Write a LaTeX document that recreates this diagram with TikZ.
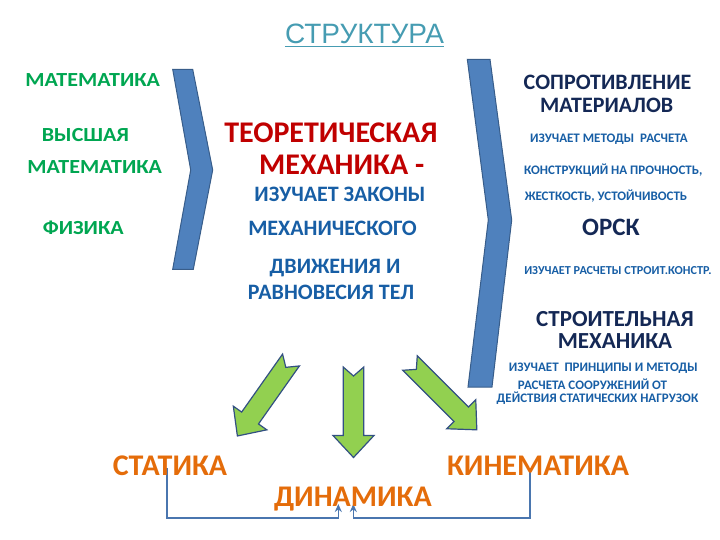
\documentclass[tikz,border=0pt]{standalone}
\usepackage{fontspec}
\setmainfont{Carlito}
\newfontfamily\titlefont{Liberation Sans}
\usetikzlibrary{arrows.meta}
\definecolor{grn}{RGB}{0,166,81}
\definecolor{dred}{RGB}{192,0,0}
\definecolor{bodyblue}{RGB}{23,94,165}
\definecolor{navy}{RGB}{20,40,85}
\definecolor{orng}{RGB}{228,108,10}
\definecolor{ttl}{RGB}{70,156,178}
\definecolor{chev}{RGB}{79,129,189}
\definecolor{chevb}{RGB}{56,93,138}
\definecolor{lgreen}{RGB}{146,208,80}
\definecolor{arrb}{RGB}{50,80,130}
\definecolor{connc}{RGB}{74,118,175}
\newcommand{\fs}[1]{\fontsize{#1}{#1}\selectfont\bfseries}
\newcommand{\blockarrow}[3]{%
  \begin{scope}[shift={#1}, rotate=#2]
    \filldraw[garrow] (0,10.3) -- ({#3-22},10.3) -- ({#3-22},20.5) -- (#3,0)
      -- ({#3-22},-20.5) -- ({#3-22},-10.3) -- (0,-10.3) -- (9,0) -- cycle;
  \end{scope}}
\begin{document}
\begin{tikzpicture}[x=1pt,y=-1pt,
  txt/.style={inner sep=0pt, anchor=base},
  gtxt/.style={txt, text=grn, font=\fs{20}},
  rtxt/.style={txt, text=dred, font=\fs{30}},
  btxt/.style={txt, text=bodyblue, font=\fs{22}},
  ntxt/.style={txt, text=navy, font=\fs{22}},
  stxt/.style={txt, text=bodyblue, font=\fs{13}},
  otxt/.style={txt, text=orng, font=\fs{30}},
  chevron/.style={fill=chev, draw=chevb, line width=1pt, line join=miter},
  garrow/.style={fill=lgreen, draw=arrb, line width=1.2pt, line join=miter},
  conn/.style={draw=connc, line width=1.4pt, -{Stealth[length=8pt,width=7pt]}}]
\useasboundingbox (0,0) rectangle (720,540);

% title
\node[txt, text=ttl, font=\titlefont\fontsize{28}{28}\selectfont] (title) at (364.5,44) {СТРУКТУРА};
\draw[ttl, line width=1.6pt] ([yshift=-2.5pt]title.base west) -- ([yshift=-2.5pt]title.base east);

% chevrons
\filldraw[chevron] (172.7,69.3) -- (192.7,69.3) -- (212.7,170) -- (193.3,269.3) -- (172.7,269.3) -- (190.7,170) -- cycle;
\filldraw[chevron] (467.3,59.3) -- (490,59.3) -- (511.7,220) -- (492,387) -- (468,387) -- (488.3,220) -- cycle;

% left column
\node[gtxt] (m1) at (92.7,87) {\scalebox{1.1}[1]{МАТЕМАТИКА}};
\node[gtxt] (v1) at (85.5,141.7) {\scalebox{1.1}[1]{ВЫСШАЯ}};
\node[gtxt] (v2) at (94.7,174) {\scalebox{1.1}[1]{МАТЕМАТИКА}};
\node[gtxt] (f1) at (83.3,234) {\scalebox{1.1}[1]{ФИЗИКА}};

% middle column
\node[rtxt] (t1) at (331,143) {ТЕОРЕТИЧЕСКАЯ};
\node[rtxt] (t2) at (341.7,175) {МЕХАНИКА -};
\node[btxt] (t3) at (340,201.7) {ИЗУЧАЕТ ЗАКОНЫ};
\node[btxt] (t4) at (332.5,236) {МЕХАНИЧЕСКОГО};
\node[btxt] (t5) at (335,273) {ДВИЖЕНИЯ И};
\node[btxt] (t6) at (331,299) {РАВНОВЕСИЯ ТЕЛ};

% right column
\node[ntxt] (r1) at (607.5,89.3) {СОПРОТИВЛЕНИЕ};
\node[ntxt] (r2) at (606.7,112.7) {МАТЕРИАЛОВ};
\node[stxt] (r3) at (609,142.7) {ИЗУЧАЕТ МЕТОДЫ \ РАСЧЕТА};
\node[stxt] (r4) at (613.3,175) {КОНСТРУКЦИЙ НА ПРОЧНОСТЬ,};
\node[stxt] (r5) at (606,200.7) {ЖЕСТКОСТЬ, УСТОЙЧИВОСТЬ};
\node[ntxt, font=\fs{25}] (r6) at (611,236) {ОРСК};
\node[stxt, font=\fs{12.2}] (r7) at (618,274) {ИЗУЧАЕТ РАСЧЕТЫ СТРОИТ.КОНСТР.};
\node[ntxt, font=\fs{23}] (r8) at (615,326.7) {СТРОИТЕЛЬНАЯ};
\node[ntxt, font=\fs{23}] (r9) at (615,348.3) {МЕХАНИКА};
\node[stxt] (r10) at (603.3,371.7) {ИЗУЧАЕТ \ ПРИНЦИПЫ И МЕТОДЫ};
\node[stxt] (r11) at (592.5,389.3) {РАСЧЕТА СООРУЖЕНИЙ ОТ};
\node[stxt] (r12) at (597.5,402.7) {ДЕЙСТВИЯ СТАТИЧЕСКИХ НАГРУЗОК};

% green block arrows
\blockarrow{(291,360)}{-125.2}{93}
\blockarrow{(353.5,367)}{-90}{90.5}
\blockarrow{(410,363)}{-45}{94.5}

% bottom connectors
\coordinate (cs) at (167,468);
\coordinate (ck) at (530,468);
\coordinate (ds) at (338.3,504);
\coordinate (dk) at (353.3,504);
\draw[conn] (cs) -- (167,518) -| (ds);
\draw[conn] (ck) -- (530,518) -| (dk);

% bottom words
\node[otxt] (stat) at (170,475.7) {СТАТИКА};
\node[otxt] (kin) at (538,475.7) {КИНЕМАТИКА};
\node[otxt] (din) at (352.9,506.7) {ДИНАМИКА};
\end{tikzpicture}
\end{document}
